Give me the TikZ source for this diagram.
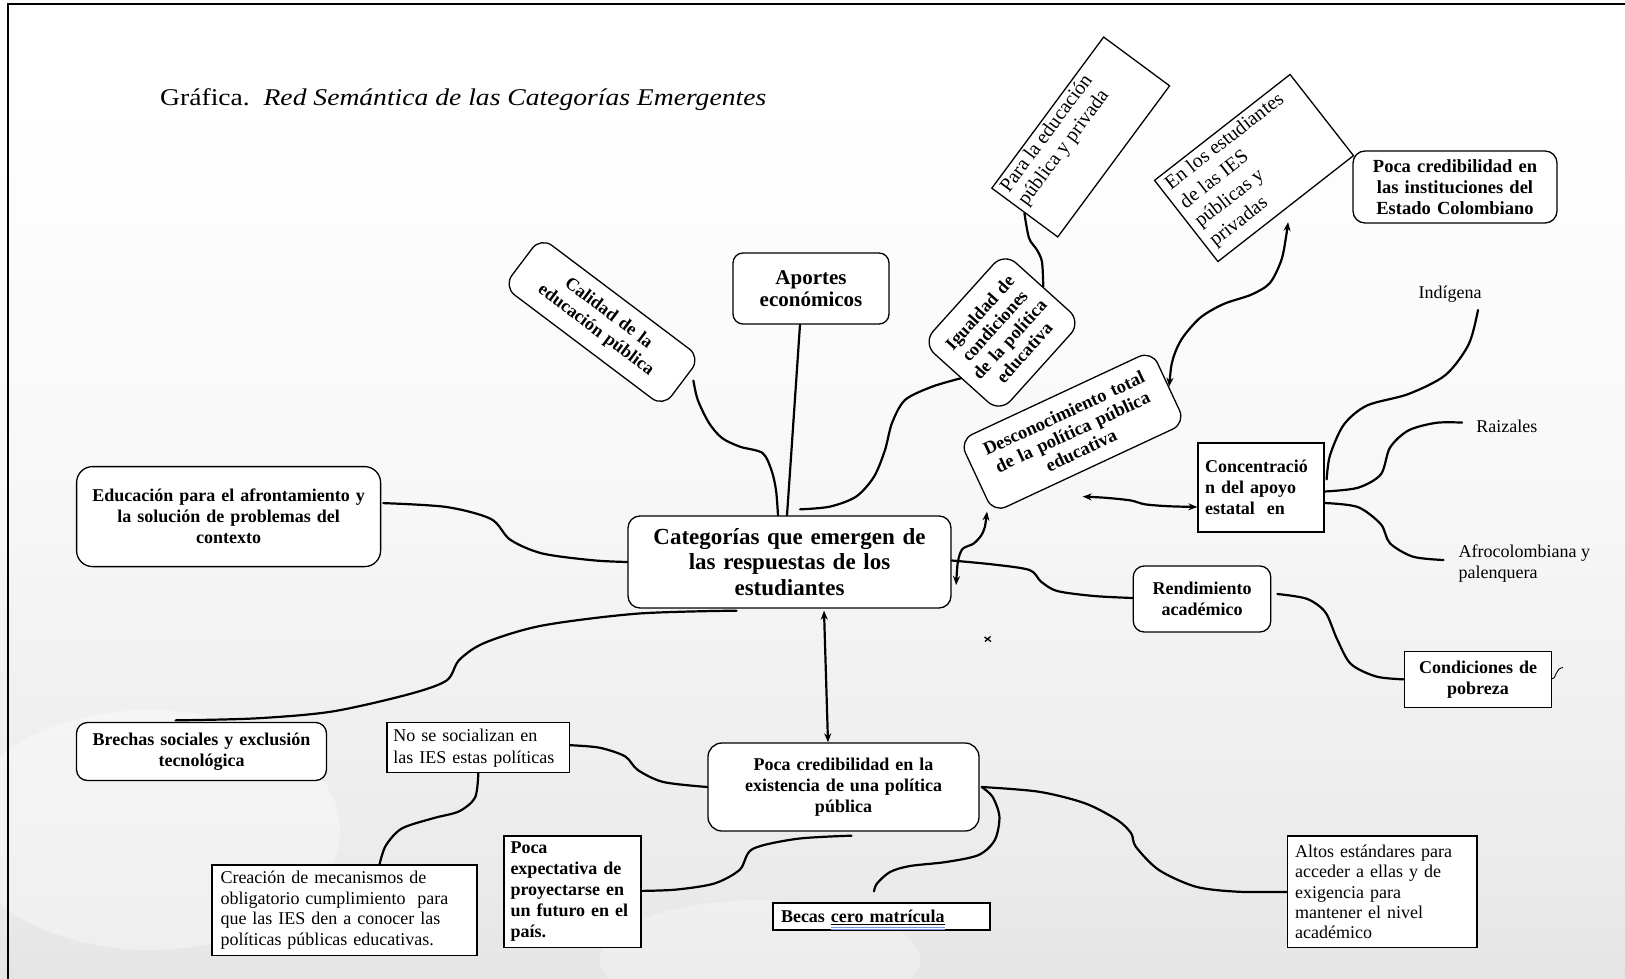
\documentclass[tikz,border=0pt]{standalone}
\usepackage{fontspec}
\setmainfont{Liberation Serif}
\usepackage{graphicx}
\usetikzlibrary{arrows.meta,calc}
\definecolor{ulblue}{RGB}{120,150,225}
\pgfdeclareverticalshading{bgshade}{100bp}{color(0bp)=(black!24); color(10bp)=(black!17); color(30bp)=(black!8); color(50bp)=(black!3); color(70bp)=(white); color(100bp)=(white)}
\newcommand{\spellul}[1]{\setbox0=\hbox{#1}\rlap{\smash{\rule[-2.2pt]{\wd0}{1.2pt}}}\rlap{\smash{\textcolor{ulblue}{\rule[-4.8pt]{\wd0}{0.9pt}}}}\rlap{\smash{\textcolor{ulblue}{\rule[-7pt]{\wd0}{0.9pt}}}}\box0}
\begin{document}
\begin{tikzpicture}[x=1pt,y=-1pt,
  >={Stealth[length=9pt,width=7pt]},
  sqbox/.style={draw=black, fill=white, line width=1.3pt, inner sep=0pt, align=center, font={\fontsize{18}{21}\selectfont\bfseries}},
  rdbox/.style={sqbox, rounded corners=12pt},
  plain/.style={inner sep=0pt, font={\fontsize{18}{21}\selectfont}},
  conn/.style={line width=2.2pt, line cap=round, line join=round}
]
\useasboundingbox (0,0) rectangle (1625,979);
% background
\shade[shading=bgshade] (0,0) rectangle (1625,979);
\fill[white, opacity=0.35] (150,830) ellipse [x radius=190, y radius=120];
\fill[white, opacity=0.3] (760,960) ellipse [x radius=160, y radius=60];
% frame
\draw[line width=2pt] (8,979) -- (8,4) -- (1625,4);

% title
\node[anchor=west, inner sep=0pt, font={\fontsize{24}{28}\selectfont}] (title) at (160,100)
  {\scalebox{1.15}[1]{Gráfica.\ \ \textit{Red Semántica de las Categorías Emergentes}}};

% nodes
\node[rdbox, font={\fontsize{23}{25.5}\selectfont\bfseries}, minimum width=323, minimum height=92, text width=312] (central) at (789.5,562)
  {Categorías que emergen de\\ las respuestas de los\\ estudiantes};
\node[rdbox, rounded corners=10pt, font={\fontsize{21}{22}\selectfont\bfseries}, minimum width=156, minimum height=71, text width=150] (aportes) at (811,288.5)
  {Aportes\\ económicos};
\node[rdbox, rotate=-37, rounded corners=14pt, minimum width=200, minimum height=62, text width=190] (calidad) at (602,322)
  {Calidad de la\\ educación pública};
\node[rdbox, rotate=48, rounded corners=16pt, font={\fontsize{18}{20}\selectfont\bfseries}, minimum width=122, minimum height=104, text width=114] (igualdad) at (1002,332.5)
  {Igualdad de\\ condiciones\\ de la política\\ educativa};
\node[rdbox, rotate=25, rounded corners=14pt, font={\fontsize{18.5}{20.5}\selectfont\bfseries}, minimum width=212, minimum height=80, text width=200] (desc) at (1072.5,431.7)
  {Desconocimiento total\\ de la política pública\\ educativa};
\node[sqbox, rotate=53.5, font={\fontsize{20}{22}\selectfont}, minimum width=188, minimum height=82] (para) at (1080.7,137)
  {\parbox[c][82pt][t]{176pt}{\raggedright\vspace*{3pt}Para la educación\\ pública y privada}};
\node[sqbox, rotate=38, font={\fontsize{20}{24}\selectfont}, minimum width=172, minimum height=103] (enlos) at (1254,168)
  {\parbox[c][103pt][t]{158pt}{\raggedright\vspace*{4pt}En los estudiantes\\ de las IES\\ públicas y\\ privadas}};
\node[rdbox, font={\fontsize{18.5}{21}\selectfont\bfseries}, minimum width=204, minimum height=72, text width=196] (pocainst) at (1455,187)
  {Poca credibilidad en\\ las instituciones del\\ Estado Colombiano};
\node[plain] (indigena) at (1450,294.6) {Indígena};
\node[plain] (raizales) at (1506.8,426.6) {Raizales};
\node[plain, anchor=west, align=left] (afro) at (1458.5,564) {Afrocolombiana y\\ palenquera};
\node[sqbox, align=left, minimum width=126, minimum height=89, text width=112] (conc) at (1261,487.5)
  {Concentració\\ n del apoyo\\ estatal\ \ en};
\node[rdbox, rounded corners=11pt, minimum width=137.5, minimum height=66, text width=130] (rend) at (1202,599)
  {Rendimiento\\ académico};
\node[sqbox, minimum width=146.5, minimum height=56, text width=140] (cond) at (1478,679.4)
  {Condiciones de\\ pobreza};
\node[rdbox, rounded corners=16pt, minimum width=304, minimum height=100, text width=292] (edu) at (228.6,516.6)
  {Educación para el afrontamiento y\\ la solución de problemas del\\ contexto};
\node[rdbox, rounded corners=11pt, minimum width=250, minimum height=58, text width=240] (brechas) at (201.5,751.5)
  {Brechas sociales y exclusión\\ tecnológica};
\node[rdbox, rounded corners=14pt, minimum width=271, minimum height=88, text width=260] (pocacred) at (843.5,787)
  {Poca credibilidad en la\\ existencia de una política\\ pública};
\node[sqbox, align=left, font={\fontsize{18}{22}\selectfont}, minimum width=182.5, minimum height=50, text width=170] (nose) at (478.3,747.7)
  {No se socializan en\\ las IES estas políticas};
\node[sqbox, align=left, font={\fontsize{18}{20.6}\selectfont}, minimum width=265, minimum height=90.6, text width=248] (creacion) at (344.5,910.3)
  {Creación de mecanismos de\\ obligatorio cumplimiento\ \ para\\ que las IES den a conocer las\\ políticas públicas educativas.};
\node[sqbox, align=left, minimum width=137, minimum height=111.7, text width=124] (pocaexp) at (572.5,891.9)
  {Poca\\ expectativa de\\ proyectarse en\\ un futuro en el\\ país.};
\node[sqbox, align=left, minimum width=217, minimum height=27, text width=201] (becas) at (881.5,916.5)
  {Becas \spellul{cero matrícula}};
\node[sqbox, align=left, font={\fontsize{18}{20.4}\selectfont}, minimum width=189.6, minimum height=111.7, text width=174] (altos) at (1382.2,891.9)
  {Altos estándares para\\ acceder a ellas y de\\ exigencia para\\ mantener el nivel\\ académico};

% connector end points
\coordinate (a1) at ($(central.north)+(-2.5,0)$);
\coordinate (a2) at ($(aportes.south)+(-11,0)$);
\coordinate (b1) at ($(central.north)+(-11.5,0)$);
\coordinate (b2) at ($(calidad.east)+(11,-2)$);
\coordinate (c1) at ($(central.north)+(10.5,-6)$);
\coordinate (e2) at ($(enlos.south)+(2,13)$);
\coordinate (f1) at ($(desc.south west)+(-6,-2)$);
\coordinate (f2) at ($(central.east)+(4.5,23)$);
\coordinate (g1) at ($(desc.south)+(-7,28)$);
\coordinate (g2) at ($(conc.west)+(0,19.5)$);
\coordinate (h1) at ($(conc.north east)+(2,37)$);
\coordinate (h2) at ($(indigena.south)+(28,7)$);
\coordinate (i1) at ($(conc.east)+(0,4)$);
\coordinate (i2) at ($(raizales.west)+(-14,-4)$);
\coordinate (j1) at ($(conc.east)+(0,15.5)$);
\coordinate (j2) at ($(afro.west)+(-15,-4)$);
\coordinate (k1) at ($(central.east)+(0,-1.5)$);
\coordinate (k2) at ($(rend.west)+(0,-1)$);
\coordinate (l1) at ($(rend.east)+(6,-5)$);
\coordinate (m1) at ($(edu.east)+(2,-13.5)$);
\coordinate (n1) at ($(central.south)+(-53,2)$);
\coordinate (n2) at ($(brechas.north)+(-26,-1.5)$);
\coordinate (o1) at ($(central.south)+(34.5,2)$);
\coordinate (o2) at ($(pocacred.north)+(-15.5,0)$);
\coordinate (p2) at ($(nose.east)+(0,-2.5)$);
\coordinate (q2) at ($(creacion.north)+(35,0)$);
\coordinate (r1) at ($(pocacred.south)+(8,4)$);
\coordinate (r2) at ($(pocaexp.east)+(0,-1)$);
\coordinate (s1) at ($(pocacred.east)+(2,0)$);
\coordinate (s2) at ($(becas.north)+(-7.5,-11)$);

% connectors
\draw[conn] plot[smooth,tension=0.5] coordinates {(a1) (790.6,463) (794,413) (a2)};
\draw[conn] plot[smooth,tension=0.5] coordinates {(b1) (776,490) (771.4,470) (762.5,453) (740,446.7) (722,438) (709,423) (697.8,400) (b2)};
\draw[conn] plot[smooth,tension=0.5] coordinates {(c1) (829.5,506.7) (856,496.7) (874,476.7) (885,450) (892,423) (905,400) (932,386.7) (igualdad.west)};
\draw[conn] plot[smooth,tension=0.5] coordinates {(igualdad.east) (1042,262) (1037,250) (1029,238) (para.west)};
\draw[conn,<->] plot[smooth,tension=0.5] coordinates {(desc.east) (1172.8,359.6) (1182,338.6) (1200.5,317.5) (1223.6,304) (1251.4,294.6) (1269.9,283) (1281.4,260) (1286,237) (e2)};
\draw[conn,<->] plot[smooth,tension=0.5] coordinates {(f1) (983.2,531.8) (974,543.3) (962.4,549) (957.8,562.4) (f2)};
\draw[conn,<->] plot[smooth,tension=0.5] coordinates {(g1) (1108,498) (1131,500.5) (1145,504.3) (1168,506.2) (g2)};
\draw[conn] plot[smooth,tension=0.5] coordinates {(h1) (1330,455.3) (1343.8,424.7) (1367,405.5) (1408.5,394) (1445.5,375) (1468.7,344.3) (h2)};
\draw[conn] plot[smooth,tension=0.5] coordinates {(i1) (1357.7,487.8) (1380.8,474.4) (1390,447.6) (1408.5,430.4) (1436.3,422.8) (i2)};
\draw[conn] plot[smooth,tension=0.5] coordinates {(j1) (1357.7,507) (1380.8,524.2) (1390,543.3) (1413,556.7) (j2)};
\draw[conn] plot[smooth,tension=0.5] coordinates {(k1) (992.5,564.4) (1029.5,570) (1041,581.6) (1057.2,591) (1094,596) (k2)};
\draw[conn] plot[smooth,tension=0.5] coordinates {(l1) (1306.8,598.8) (1325.3,612.2) (1337,639) (1350.8,663.9) (1376.2,676.5) (cond.west)};
\draw[conn] plot[smooth,tension=0.5] coordinates {(m1) (446.4,507) (491,519) (510.2,539.7) (542,553.4) (593,560.3) (central.west)};
\draw[conn] plot[smooth,tension=0.5] coordinates {(n1) (637.8,613.6) (542,625.6) (484.7,642.8) (459.2,660) (446.4,680.6) (408.2,694.4) (331.6,711.6) (255.1,718.4) (n2)};
\draw[conn,<->] (o1) -- (o2);
\draw[conn] plot[smooth,tension=0.5] coordinates {(pocacred.west) (663.3,782) (637.8,770) (625,756.3) (599.5,747.7) (p2)};
\draw[conn] plot[smooth,tension=0.5] coordinates {(nose.south) (475.1,797.5) (459.2,811.3) (433.7,818.1) (401.8,828.5) (385.8,845.6) (q2)};
\draw[conn] plot[smooth,tension=0.5] coordinates {(r1) (797.2,838.8) (752.6,849) (739.8,869.7) (714.3,883.5) (676,889.6) (r2)};
\draw[conn] plot[smooth,tension=0.5] coordinates {(s1) (992.5,796.7) (999.4,816.7) (994.8,840) (978.6,855) (946,862) (910,866) (890,872) (877,883.5) (s2)};
\draw[conn] plot[smooth,tension=0.5] coordinates {(s1) (1038.7,791.7) (1085,803.3) (1117.3,820) (1131.2,833.3) (1135.8,846.7) (1158.9,870) (1195.9,886.7) (1237.5,891.7) (altos.west)};

% small marks
\draw[line width=0.9pt] ($(cond.east)+(0,-0.5)$) .. controls (1556,680) and (1555,668) .. (1563,667.5);
\draw[line width=1.3pt] (984.5,637) -- (991,641.5) (985,641.5) -- (990.5,636.5);
\end{tikzpicture}
\end{document}
